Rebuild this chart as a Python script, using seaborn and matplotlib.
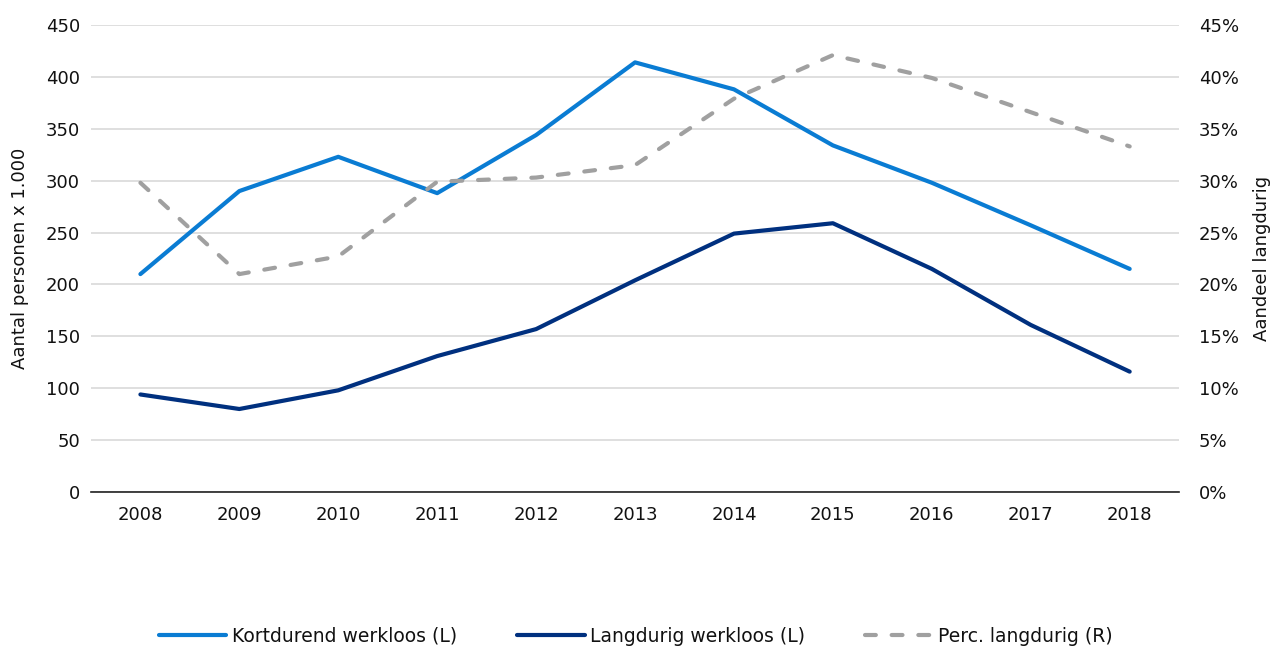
import pandas as pd
import seaborn as sns
import matplotlib.pyplot as plt
from matplotlib.ticker import FuncFormatter, MultipleLocator

# data
years = ['2008', '2009', '2010', '2011', '2012', '2013', '2014', '2015', '2016', '2017', '2018']
kortdurend = [210, 290, 323, 288, 344, 414, 388, 334, 298, 257, 215]
langdurig = [94, 80, 98, 131, 157, 204, 249, 259, 215, 161, 116]
perc_langdurig = [29.8, 21.0, 22.7, 29.9, 30.3, 31.5, 37.9, 42.1, 39.9, 36.6, 33.3]

sns.set_style('white')
plt.rcParams['font.family'] = ['DejaVu Sans']
plt.rcParams['font.size'] = 13

light_blue = '#0a7cd3'
dark_blue = '#00307f'
grey = '#a0a0a0'

df = pd.DataFrame({'Jaar': years, 'Kort': kortdurend, 'Lang': langdurig, 'Perc': perc_langdurig})

fig = plt.figure(figsize=(12.72, 6.48), dpi=100)
ax = fig.add_axes([0.0715, 0.2407, 0.8555, 0.7207])
ax2 = ax.twinx()

sns.lineplot(data=df, x='Jaar', y='Kort', ax=ax, color=light_blue, linewidth=3, sort=False,
             label='Kortdurend werkloos (L)', legend=False)
sns.lineplot(data=df, x='Jaar', y='Lang', ax=ax, color=dark_blue, linewidth=3, sort=False,
             label='Langdurig werkloos (L)', legend=False)
sns.lineplot(data=df, x='Jaar', y='Perc', ax=ax2, color=grey, linewidth=3, sort=False,
             label='Perc. langdurig (R)', legend=False, dashes=False)
ax2.lines[0].set_dashes([2.6, 3.8])
ax2.lines[0].set_solid_capstyle('round')
ax2.lines[0].set_dash_capstyle('round')
for ln in ax.lines:
    ln.set_solid_capstyle('round')

ax.set_xlim(-0.5, len(years) - 0.5)
ax.set_ylim(0, 450)
ax2.set_ylim(0, 45)
ax.yaxis.set_major_locator(MultipleLocator(50))
ax2.yaxis.set_major_locator(MultipleLocator(5))
ax2.yaxis.set_major_formatter(FuncFormatter(lambda v, p: f'{v:.0f}%'))

ax.grid(axis='y', color='#d9d9d9', linewidth=1.2)
ax.set_axisbelow(True)
for a in (ax, ax2):
    for s in ['top', 'left', 'right', 'bottom']:
        a.spines[s].set_visible(False)
    a.tick_params(length=0, colors='#111111', labelsize=13)
ax.spines['bottom'].set_visible(True)
ax.spines['bottom'].set_color('#222222')
ax.spines['bottom'].set_linewidth(1.2)
ax.tick_params(axis='x', pad=10)
ax.tick_params(axis='y', pad=8)
ax2.tick_params(axis='y', pad=14)

ax.set_xlabel('')
ax.set_ylabel('Aantal personen x 1.000', fontsize=13, labelpad=12, color='#111111')
ax2.set_ylabel('Aandeel langdurig', fontsize=13, labelpad=10, color='#111111')

handles = ax.lines[:2] + ax2.lines[:1]
labels = ['Kortdurend werkloos (L)', 'Langdurig werkloos (L)', 'Perc. langdurig (R)']
leg = fig.legend(handles, labels, loc='center', bbox_to_anchor=(0.5, 0.018), ncol=3, frameon=False,
                 fontsize=13.5, handlelength=3.6, handletextpad=0.3, columnspacing=3.2)
for t in leg.get_texts():
    t.set_color('#111111')

fig.savefig('out.png', dpi=100)
